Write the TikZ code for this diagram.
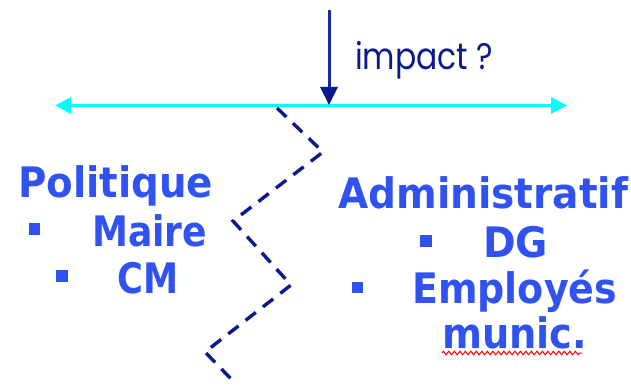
\documentclass[tikz,border=0pt]{standalone}
\usepackage{fontspec}
\setmainfont{DejaVu Sans}
\newfontfamily\impactfont{Poppins}
\newfontfamily\handfont{DejaVu Sans}
\usetikzlibrary{arrows.meta,decorations.pathmorphing}
\definecolor{navy}{HTML}{0A1A8C}
\definecolor{linkblue}{HTML}{1A28A8}
\definecolor{handblue}{HTML}{2F52F0}
\definecolor{cyanline}{HTML}{00FFFF}
\newcommand\fitw[2]{\resizebox{#1}{\height}{#2}}
\tikzset{
  hand/.style={font=\handfont\bfseries\fontsize{42}{42}\selectfont, text=handblue, inner sep=0pt, anchor=base west},
  bulletbox/.style={rectangle, fill=handblue, minimum size=11.5pt, inner sep=0pt},
  zigzag/.style={navy, line width=3.4pt, dash pattern=on 13pt off 9pt},
}
\begin{document}
\begin{tikzpicture}[x=1pt,y=-1pt]
\useasboundingbox (0,0) rectangle (631,390);
% arrows
\coordinate (ltop) at (329,10);
\coordinate (lbot) at (329,105);
\coordinate (cl) at (55,105.5);
\coordinate (cr) at (567,105.5);
\draw[cyanline, line width=3.2pt, {Triangle[length=16pt,width=16pt]}-{Triangle[length=16pt,width=16pt]}] (cl) -- (cr);
\draw[linkblue, line width=3pt, -{Triangle[length=18pt,width=17pt,color=navy]}] (ltop) -- (lbot);
\node[font=\impactfont\fontsize{37}{37}\selectfont, text=navy, inner sep=0pt, anchor=base west] (impact) at (355,70) {\fitw{138pt}{impact ?}};
% zigzag
\coordinate (z1) at (277,108);
\coordinate (z2) at (323,152);
\coordinate (z3) at (233,221);
\coordinate (z4) at (291,285);
\coordinate (z5) at (205,352);
\coordinate (z6) at (236,384);
\draw[zigzag] (z1) -- (z2) -- (z3) -- (z4) -- (z5) -- (z6);
% left
\node[hand] (pol) at (18,197) {\fitw{195pt}{Politique}};
\node[bulletbox] (b1) at (34.5,229) {};
\node[hand] (maire) at (92,246) {\fitw{115pt}{Maire}};
\node[bulletbox] (b2) at (62,276) {};
\node[hand] (cm) at (117,293) {\fitw{61pt}{CM}};
% right
\node[hand] (adm) at (338,208) {\fitw{290pt}{Administratif}};
\node[bulletbox] (b3) at (426,241) {};
\node[hand] (dg) at (483,257) {\fitw{65pt}{DG}};
\node[bulletbox] (b4) at (357.5,287.5) {};
\node[hand] (emp) at (412,303) {\fitw{205pt}{Employés}};
\node[hand] (mun) at (442,348) {\fitw{145pt}{munic.}};
\coordinate (ul) at (442,353);
\coordinate (ur) at (582,353);
\draw[red, line width=1pt, decorate, decoration={zigzag, amplitude=1.8pt, segment length=5.5pt}] (ul) -- (ur);
\end{tikzpicture}
\end{document}
